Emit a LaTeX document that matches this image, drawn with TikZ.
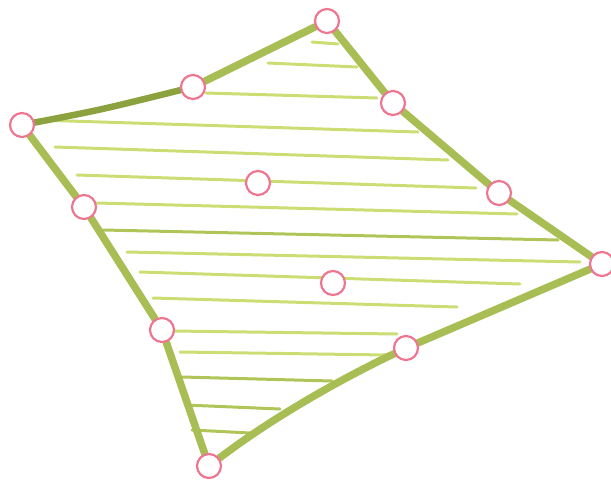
\documentclass[tikz,border=0pt]{standalone}
\definecolor{rimc}{RGB}{168,190,84}
\definecolor{rimd}{RGB}{140,162,62}
\definecolor{hatchc}{RGB}{204,221,116}
\definecolor{hatchd}{RGB}{176,197,88}
\definecolor{pinkc}{RGB}{238,118,145}
\pgfdeclarelayer{bg}
\pgfsetlayers{bg,main}
\begin{document}
\begin{tikzpicture}[x=1pt,y=-1pt,
  hatch/.style={draw=hatchc, line width=3pt, line cap=round},
  hatchdark/.style={draw=hatchd, line width=3pt, line cap=round},
  rim/.style={draw=rimc, line width=7.5pt, line cap=round, line join=round},
  rimdark/.style={draw=rimd, line width=6.5pt, line cap=round},
  vertex/.style={circle, draw=pinkc, line width=2.2pt, fill=white, minimum size=24pt, inner sep=0pt}]
\useasboundingbox (0,0) rectangle (611,483);
% vertices
\node[vertex] (A) at (327,21) {};
\node[vertex] (B) at (193,87) {};
\node[vertex] (C) at (22,125) {};
\node[vertex] (D) at (393,103) {};
\node[vertex] (E) at (258,183) {};
\node[vertex] (F) at (84,207) {};
\node[vertex] (G) at (499,193) {};
\node[vertex] (H) at (602,264) {};
\node[vertex] (I) at (333,283) {};
\node[vertex] (J) at (162,330) {};
\node[vertex] (K) at (406,348) {};
\node[vertex] (L) at (209,466) {};
\begin{pgfonlayer}{bg}
% hatching
\draw[hatch] (312,42) -- (338,44);
\draw[hatch] (268,63) -- (357,67);
\draw[hatch] (206,93) -- (377,98);
\draw[hatch] (37,120) -- (418,132);
\draw[hatch] (55,147) -- (448,160);
\draw[hatch] (77,175) -- (476,188);
\draw[hatch] (97,203) -- (517,214);
\draw[hatchdark] (103,230) -- (558,240);
\draw[hatch] (127,252) -- (580,262);
\draw[hatch] (140,272) -- (520,284);
\draw[hatch] (153,298) -- (457,307);
\draw[hatch] (173,331) -- (397,334);
\draw[hatch] (180,352) -- (387,355);
\draw[hatchdark] (182,377) -- (332,381);
\draw[hatchdark] (185,405) -- (280,409);
\draw[hatchdark] (192,430) -- (250,433);
% outline
\draw[rimdark] (C) .. controls (100,110) .. (B);
\draw[rim] (B) -- (A);
\draw[rim] (A) -- (D);
\draw[rim] (D) -- (G);
\draw[rim] (G) -- (H);
\draw[rim] (H) -- (K);
\draw[rim] (K) .. controls (339,380) and (272,418) .. (L);
\draw[rim] (L) -- (J);
\draw[rim] (J) -- (F);
\draw[rim] (F) -- (C);
\end{pgfonlayer}
\end{tikzpicture}
\end{document}
